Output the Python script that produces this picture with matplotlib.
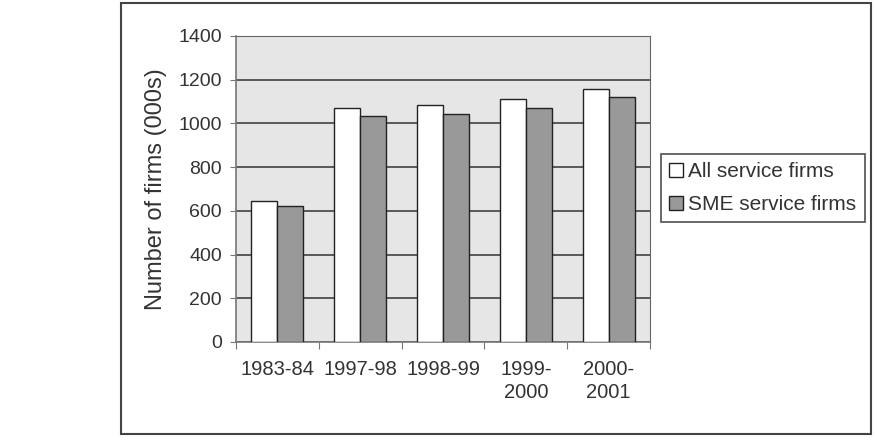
import matplotlib
matplotlib.use("Agg")
import matplotlib.pyplot as plt
import numpy as np
from matplotlib.patches import Rectangle

categories = ["1983-84", "1997-98", "1998-99", "1999-\n2000", "2000-\n2001"]
all_firms = [645, 1072, 1085, 1114, 1158]
sme_firms = [622, 1036, 1043, 1072, 1121]
series_names = ["All service firms", "SME service firms"]
yticks = [0, 200, 400, 600, 800, 1000, 1200, 1400]

plt.rcParams['font.family'] = ['Liberation Sans', 'DejaVu Sans']
fig = plt.figure(figsize=(8.77, 4.41), dpi=100)
W, H = 877, 441
ax = fig.add_axes([236 / W, 1 - 342 / H, (650 - 236) / W, (342 - 36) / H])

# outer frame
fig.patches.append(Rectangle((121 / W, 1 - 434 / H), (871 - 121) / W, (434 - 3) / H,
                             transform=fig.transFigure, fill=False,
                             edgecolor="#444444", linewidth=1.5))

x = np.arange(len(categories))
bw = 0.315
ax.set_facecolor("#e6e6e6")
ax.bar(x - bw / 2, all_firms, bw, color="white", edgecolor="#222222", linewidth=1.0,
       label=series_names[0], zorder=3)
ax.bar(x + bw / 2, sme_firms, bw, color="#999999", edgecolor="#222222", linewidth=1.0,
       label=series_names[1], zorder=3)

ax.set_xlim(-0.5, len(categories) - 0.5)
ax.set_ylim(0, 1400)
ax.set_yticks(yticks)
ax.yaxis.grid(True, color="#333333", linewidth=1.1, zorder=1)
ax.set_axisbelow(True)
ax.set_xticks(np.arange(len(categories) + 1) - 0.5, minor=False)
ax.set_xticklabels([])
ax.set_xticks(x, minor=True)
ax.set_xticklabels(categories, minor=True, fontsize=14.5, color="#333333",
                   linespacing=1.25)
ax.tick_params(axis="x", which="minor", length=0, pad=13)
ax.tick_params(axis="x", which="major", length=5, color="#777777", direction="out")
ax.tick_params(axis="y", length=4, pad=6, color="#777777", labelsize=14, labelcolor="#333333")
for s in ["top", "right"]:
    ax.spines[s].set_color("#666666")
for s in ["left", "bottom"]:
    ax.spines[s].set_color("#777777")
    ax.spines[s].set_linewidth(1.2)
ax.set_ylabel("Number of firms (000s)", fontsize=17, color="#333333", labelpad=8)

leg = fig.legend(loc="upper left", bbox_to_anchor=(661 / W, 1 - 154 / H), fontsize=15,
                 frameon=True, fancybox=False, edgecolor="#222222", handlelength=0.65,
                 handleheight=0.65, handletextpad=0.25, borderpad=0.4, labelspacing=0.65,
                 borderaxespad=0, labelcolor="#333333")
leg.get_frame().set_linewidth(1.2)

fig.savefig("out.png", dpi=100)
